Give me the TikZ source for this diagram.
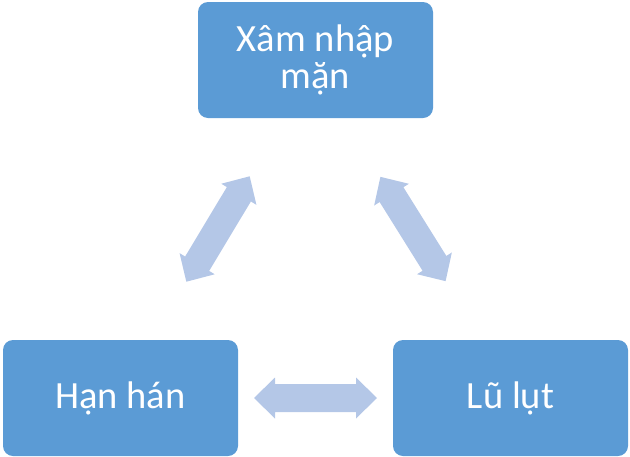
\documentclass[tikz,border=0pt]{standalone}
\usepackage{fontspec}
\setmainfont{Carlito}
\usetikzlibrary{calc}
\definecolor{boxblue}{HTML}{5B9BD5}
\definecolor{arrowblue}{HTML}{B4C7E7}
\tikzset{
  box/.style={fill=boxblue, draw=none, rounded corners=10pt, minimum width=235pt, minimum height=116pt,
    text=white, align=center, inner sep=0pt, font=\fontsize{38.5}{37}\selectfont},
  dblarrow/.pic={\fill[arrowblue] (-61.5,0) -- (-40.5,20.5) -- (-40.5,14) -- (40.5,14) -- (40.5,20.5)
    -- (61.5,0) -- (40.5,-20.5) -- (40.5,-14) -- (-40.5,-14) -- (-40.5,-20.5) -- cycle;}
}
\begin{document}
\begin{tikzpicture}[x=1pt,y=-1pt]
\useasboundingbox (0,0) rectangle (630,456);
\node[box] (top) at (315.5,60) {Xâm nhập\\mặn};
\node[box] (left) at (120.5,398) {Hạn hán};
\node[box] (right) at (510.5,398) {Lũ lụt};
\pic[rotate=59] at ($(left.center)!0.5!(top.center)$) {dblarrow};
\pic[rotate=-58] at ($(right.center)!0.5!(top.center)$) {dblarrow};
\pic at ($(left.center)!0.5!(right.center)$) {dblarrow};
\end{tikzpicture}
\end{document}
